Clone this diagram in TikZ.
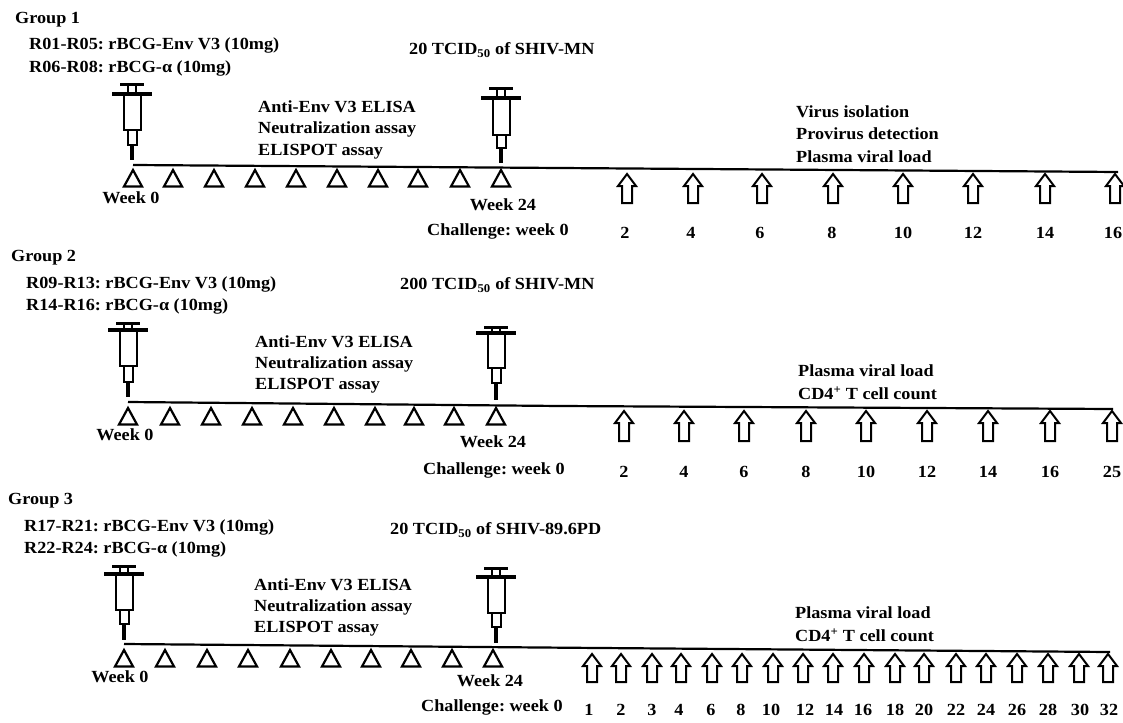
\documentclass[tikz,border=0pt]{standalone}
\usepackage{fontspec}
\setmainfont[FakeStretch=1.07]{Liberation Serif}
\newcommand{\txtsize}{\fontsize{17}{20}\bfseries\selectfont\frenchspacing}
\newcommand{\synge}[8]{% x captop capy flangey barrelbottom hubbottom needlebottom halfflange
  \draw[syr,line width=3pt] (#1-12,#3) -- (#1+12,#3);
  \draw[syr,line width=1.2pt] (#1-4,#3) -- (#1-4,#4) (#1+4,#3) -- (#1+4,#4);
  \draw[syr,line width=4pt] (#1-#8,#4) -- (#1+#8,#4);
  \draw[syr] (#1-8.5,#4) -- (#1-8.5,#5) -- (#1+8.5,#5) -- (#1+8.5,#4);
  \draw[syr] (#1-4.5,#5) -- (#1-4.5,#6) -- (#1+4.5,#6) -- (#1+4.5,#5);
  \draw[syr,line width=3.5pt] (#1,#6) -- (#1,#7);
}
\newcommand{\tria}[2]{\draw[tri] (#1,#2) -- (#1+9,#2+16.5) -- (#1-9,#2+16.5) -- cycle;}
\newcommand{\arrw}[3]{% x tip bottom
  \draw[arr] (#1,#2) -- (#1+9,#2+12) -- (#1+5,#2+12) -- (#1+5,#3) -- (#1-5,#3) -- (#1-5,#2+12) -- (#1-9,#2+12) -- cycle;}
\tikzset{
  x=1pt,y=-1pt,
  syr/.style={draw=black,line width=2pt},
  tri/.style={draw=black,line width=2.2pt,line join=miter},
  arr/.style={draw=black,line width=2pt,line join=miter},
  tl/.style={draw=black,line width=2.2pt},
  lab/.style={font=\txtsize,text=black,inner sep=0pt,anchor=west},
  num/.style={font=\txtsize,text=black,inner sep=0pt,anchor=center},
}
\begin{document}
\begin{tikzpicture}
\useasboundingbox (0,0) rectangle (1123,722);
\fill[white] (0,0) rectangle (1123,722);
% ---------- Group 1
\node[lab] (g1) at (15,20) {Group 1};
\node[lab] (g1a) at (29,45) {R01-R05: rBCG-Env V3 (10mg)};
\node[lab] (g1b) at (29,68) {R06-R08: rBCG-α (10mg)};
\node[lab] (g1c) at (409,50) {20 TCID\textsubscript{50} of SHIV-MN};
\node[lab] (g1d) at (258,107) {Anti-Env V3 ELISA};
\node[lab] (g1e) at (258,129) {Neutralization assay};
\node[lab] (g1f) at (258,152) {ELISPOT assay};
\node[lab] (g1g) at (796,112) {Virus isolation};
\node[lab] (g1h) at (796,134) {Provirus detection};
\node[lab] (g1i) at (796,157) {Plasma viral load};
\node[num] (g1w0) at (131,198) {Week 0};
\node[num] (g1w24) at (503,205) {Week 24};
\node[lab] (g1ch) at (427,231) {Challenge: week 0};
\synge{132}{83}{85}{94}{130}{145}{160}{20}
\synge{501}{87}{89}{98}{135}{148}{163}{20}
\coordinate (g1s) at (133,165); \coordinate (g1m) at (560,168); \coordinate (g1e2) at (1118,172);
\draw[tl] (g1s) -- (g1m) -- (g1e2);
\foreach \x in {133,173,214,255,296,337,378,418,460,501} {\tria{\x}{170}}
\foreach \x/\t/\lx [count=\i] in {627/2/625,693/4/691,762/6/760,833/8/832,903/10/903,973/12/973,1045/14/1045,1115/16/1113} {
  \arrw{\x}{174}{203}
  \node[num] (g1n\i) at (\lx,233) {\t};
}
% ---------- Group 2
\node[lab] (g2) at (11,258) {Group 2};
\node[lab] (g2a) at (26,284) {R09-R13: rBCG-Env V3 (10mg)};
\node[lab] (g2b) at (26,306) {R14-R16: rBCG-α (10mg)};
\node[lab] (g2c) at (400,285) {200 TCID\textsubscript{50} of SHIV-MN};
\node[lab] (g2d) at (255,342) {Anti-Env V3 ELISA};
\node[lab] (g2e) at (255,364) {Neutralization assay};
\node[lab] (g2f) at (255,386) {ELISPOT assay};
\node[lab] (g2g) at (798,371) {Plasma viral load};
\node[lab] (g2h) at (798,393) {CD4\textsuperscript{+} T cell count};
\node[num] (g2w0) at (125,435) {Week 0};
\node[num] (g2w24) at (493,442) {Week 24};
\node[lab] (g2ch) at (423,470) {Challenge: week 0};
\synge{128}{321}{323}{330}{366}{382}{397}{20}
\synge{496}{325}{327}{333}{368}{383}{400}{20}
\coordinate (g2s) at (128,402); \coordinate (g2m) at (560,406); \coordinate (g2e2) at (1113,409);
\draw[tl] (g2s) -- (g2m) -- (g2e2);
\foreach \x in {128,170,211,252,293,334,375,414,454,496} {\tria{\x}{408}}
\foreach \x/\t [count=\i] in {624/2,684/4,744/6,806/8,866/10,927/12,988/14,1050/16,1112/25} {
  \arrw{\x}{411}{441}
  \node[num] (g2n\i) at (\x,472) {\t};
}
% ---------- Group 3
\node[lab] (g3) at (8,501) {Group 3};
\node[lab] (g3a) at (24,527) {R17-R21: rBCG-Env V3 (10mg)};
\node[lab] (g3b) at (24,549) {R22-R24: rBCG-α (10mg)};
\node[lab] (g3c) at (390,530) {20 TCID\textsubscript{50} of SHIV-89.6PD};
\node[lab] (g3d) at (254,585) {Anti-Env V3 ELISA};
\node[lab] (g3e) at (254,607) {Neutralization assay};
\node[lab] (g3f) at (254,629) {ELISPOT assay};
\node[lab] (g3g) at (795,613) {Plasma viral load};
\node[lab] (g3h) at (795,635) {CD4\textsuperscript{+} T cell count};
\node[num] (g3w0) at (120,677) {Week 0};
\node[num] (g3w24) at (490,681) {Week 24};
\node[lab] (g3ch) at (421,707) {Challenge: week 0};
\synge{124}{564}{566}{574}{610}{624}{640}{20}
\synge{496}{566}{568}{577}{613}{627}{643}{20}
\coordinate (g3s) at (124,644); \coordinate (g3m) at (600,648); \coordinate (g3e2) at (1110,652);
\draw[tl] (g3s) -- (g3m) -- (g3e2);
\foreach \x in {124,165,207,248,290,331,371,411,452,493} {\tria{\x}{650}}
\foreach \x/\t/\lx [count=\i] in {592/1/589,621/2/621,652/3/652,681/4/679,712/6/711,742/8/741,773/10/771,803/12/805,833/14/834,864/16/863,895/18/895,924/20/924,956/22/956,986/24/986,1017/26/1017,1048/28/1048,1079/30/1080,1108/32/1109} {
  \arrw{\x}{654}{682}
  \node[num] (g3n\i) at (\lx,710) {\t};
}
\end{tikzpicture}
\end{document}
